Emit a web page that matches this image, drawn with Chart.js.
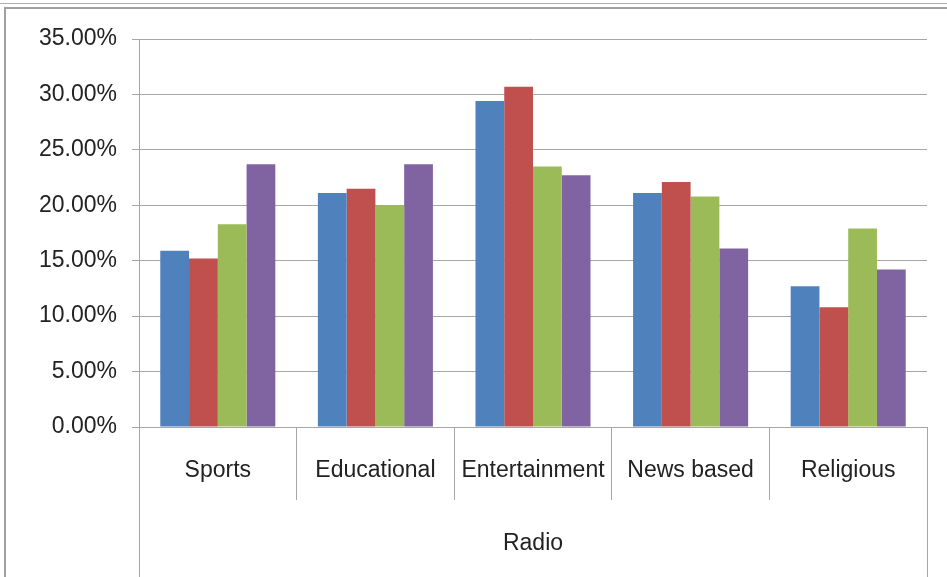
<!DOCTYPE html>
<html>
<head>
<meta charset="utf-8">
<script src="https://cdn.jsdelivr.net/npm/chart.js@4.4.1/dist/chart.umd.min.js"></script>
<style>
	html, body { margin: 0; padding: 0; background: #fff; }
	#wrap { position: relative; width: 947px; height: 577px; overflow: hidden; }
	#line1 { position: absolute; left: 0; top: 3px; width: 947px; height: 0; border-top: 1px solid #b0b0b0; }
	#frame { position: absolute; left: 4px; top: 7px; width: 960px; height: 600px; border-left: 2px solid #a0a0a0; border-top: 2px solid #a0a0a0; }
	#radioChart { position: absolute; left: 0; top: 0; }
</style>
</head>
<body>
<div id="wrap">
	<div id="line1"></div>
	<div id="frame"></div>
	<canvas id="radioChart" width="947" height="577"></canvas>
</div>
<script>
// values (percent)
var categories = ["Sports", "Educational", "Entertainment", "News based", "Religious"];
var groupLabel = ["Radio"];
var series1 = [15.9, 21.1, 29.4, 21.1, 12.7];
var series2 = [15.2, 21.5, 30.7, 22.1, 10.8];
var series3 = [18.3, 20.0, 23.5, 20.8, 17.9];
var series4 = [23.7, 23.7, 22.7, 16.1, 14.2];
var yTicks = [0, 5, 10, 15, 20, 25, 30, 35];

var colors = ["#4F81BD", "#C0504D", "#9BBB59", "#8064A2"];
var gridGray = "#a6a6a6";
var fontFamily = "'Liberation Sans', Arial, sans-serif";

window.onload = function start(){
	var ctx = document.getElementById("radioChart");

	var allSeries = [series1, series2, series3, series4];
	var datasets = [];
	for (var i = 0; i < allSeries.length; i++) {
		datasets.push({
			label: "Series " + (i + 1),
			data: allSeries[i],
			backgroundColor: colors[i],
			borderWidth: 0,
			xAxisID: "x",
			categoryPercentage: 0.73,
			barPercentage: 1.0
		});
	}

	var chart = new Chart(ctx, {
		type: "bar",
		data: { labels: categories, datasets: datasets },
		options: {
			responsive: false,
			animation: false,
			layout: { padding: { left: 0, right: 20, top: 39, bottom: 0 } },
			plugins: { legend: { display: false }, tooltip: { enabled: false } },
			scales: {
				y: {
					min: 0,
					max: 35,
					afterBuildTicks: function(scale) {
						scale.ticks = yTicks.map(function(v) { return { value: v }; });
					},
					afterFit: function(scale) { scale.width = 139; },
					grid: { color: gridGray, lineWidth: 1, tickLength: 7 },
					border: { color: gridGray, width: 1 },
					ticks: {
						padding: 15,
						color: "#222",
						font: { family: fontFamily, size: 23 },
						callback: function(v) { return v.toFixed(2) + "%"; }
					}
				},
				x: {
					position: "bottom",
					offset: true,
					afterFit: function(scale) { scale.height = 55; },
					grid: { offset: true, drawOnChartArea: false, color: gridGray, tickLength: 73 },
					border: { color: gridGray, width: 1 },
					ticks: {
						padding: -43,
						color: "#222",
						maxRotation: 0,
						autoSkip: false,
						font: { family: fontFamily, size: 23 }
					}
				},
				x2: {
					type: "category",
					position: "bottom",
					labels: groupLabel,
					offset: true,
					afterFit: function(scale) { scale.height = 95; },
					grid: { offset: true, drawOnChartArea: false, color: gridGray, tickLength: 95 },
					border: { display: false },
					ticks: {
						padding: -47,
						color: "#222",
						maxRotation: 0,
						font: { family: fontFamily, size: 23 }
					}
				}
			}
		}
	});
	console.log(chart.chartArea);
}
</script>
</body>
</html>
